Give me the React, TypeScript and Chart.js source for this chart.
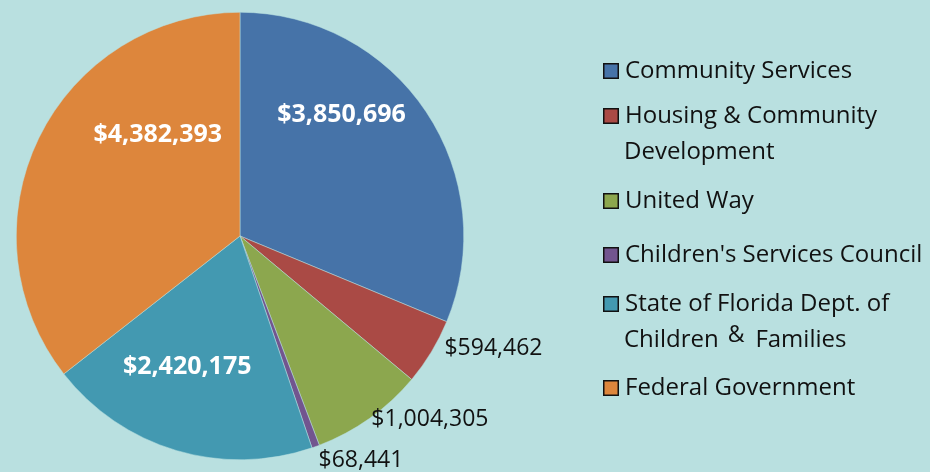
import React, { useEffect, useRef } from "react";
import { Chart, registerables } from "chart.js";

Chart.register(...registerables);

const categories = [
  "Community Services",
  "Housing & Community Development",
  "United Way",
  "Children's Services Council",
  "State of Florida Dept. of Children & Families",
  "Federal Government",
];
const legendLines = [
  ["Community Services"],
  ["Housing & Community", "Development"],
  ["United Way"],
  ["Children's Services Council"],
  ["State of Florida Dept. of", "Children & Families"],
  ["Federal Government"],
];
const values = [3850696, 594462, 1004305, 68441, 2420175, 4382393];
const valueLabels = ["$3,850,696", "$594,462", "$1,004,305", "$68,441", "$2,420,175", "$4,382,393"];
const colors = ["#4673a8", "#aa4a45", "#8ca74e", "#72558f", "#4399b1", "#dd863c"];

// label placement: angle (deg, clockwise from top) and radius factor
const labelAngle = [40, 114, 134, 151.7, 202, 321];
const labelRadius = [0.706, 1.24, 1.18, 1.14, 0.63, 0.584];
const labelInside = [true, false, false, false, true, true];

const BG = "#b9e0e0";
const FONT = "'Open Sans', 'Noto Sans', sans-serif";

const legendRowY = [71, 116, 201, 255, 304, 388];
const legendLineH = 36;

export default function App() {
  const ref = useRef<HTMLCanvasElement | null>(null);
  useEffect(() => {
    document.body.style.margin = "0";
    document.body.style.background = BG;
    const canvas = ref.current!;
    const labelsPlugin = {
      id: "valueLabels",
      afterDatasetsDraw(chart: any) {
        const ctx = chart.ctx;
        const meta = chart.getDatasetMeta(0);
        ctx.save();
        ctx.textAlign = "center";
        ctx.textBaseline = "middle";
        meta.data.forEach((arc: any, i: number) => {
          const p = arc.getProps(["x", "y", "outerRadius"], true);
          const a = (labelAngle[i] * Math.PI) / 180;
          const r = p.outerRadius * labelRadius[i];
          const x = p.x + Math.sin(a) * r;
          const y = p.y - Math.cos(a) * r;
          if (labelInside[i]) {
            ctx.font = `bold 25px ${FONT}`;
            ctx.fillStyle = "#ffffff";
          } else {
            ctx.font = `23px ${FONT}`;
            ctx.fillStyle = "#111111";
          }
          ctx.fillText(valueLabels[i], x, y);
        });
        ctx.restore();
      },
    };
    const legendPlugin = {
      id: "customLegend",
      afterDraw(chart: any) {
        const ctx = chart.ctx;
        ctx.save();
        ctx.textBaseline = "middle";
        ctx.textAlign = "left";
        legendLines.forEach((lines, i) => {
          const y0 = legendRowY[i];
          ctx.fillStyle = colors[i];
          ctx.fillRect(603, y0 - 8, 16, 16);
          ctx.strokeStyle = "#111";
          ctx.lineWidth = 1.5;
          ctx.strokeRect(603.75, y0 - 7.25, 14.5, 14.5);
          ctx.fillStyle = "#111111";
          lines.forEach((ln, j) => {
            const x0 = j === 0 ? 625 : 624;
            const y = y0 + j * legendLineH;
            ctx.font = `24px ${FONT}`;
            if (j > 0 && ln.includes(" & ")) {
              const parts = ln.split(" & ");
              ctx.fillText(parts[0], x0, y);
              let x = x0 + ctx.measureText(parts[0]).width + 9;
              ctx.font = `23px ${FONT}`;
              ctx.fillText("&", x, y - 5);
              x += ctx.measureText("&").width + 11;
              ctx.font = `24px ${FONT}`;
              ctx.fillText(parts[1], x, y);
            } else {
              ctx.fillText(ln, x0, y);
            }
          });
        });
        ctx.restore();
      },
    };
    const chart = new Chart(canvas, {
      type: "pie",
      data: {
        labels: categories,
        datasets: [
          {
            data: values,
            backgroundColor: colors,
            borderColor: BG,
            borderWidth: 0.5,
          },
        ],
      },
      options: {
        responsive: false,
        animation: false,
        layout: { padding: { left: 16, right: 466, top: 12, bottom: 12 } },
        plugins: {
          legend: { display: false },
          tooltip: { enabled: false },
        },
      },
      plugins: [labelsPlugin, legendPlugin],
    });
    return () => chart.destroy();
  }, []);
  return (
    <div style={{ width: 930, height: 472, background: BG }}>
      <canvas ref={ref} width={930} height={472} style={{ display: "block" }} />
    </div>
  );
}
